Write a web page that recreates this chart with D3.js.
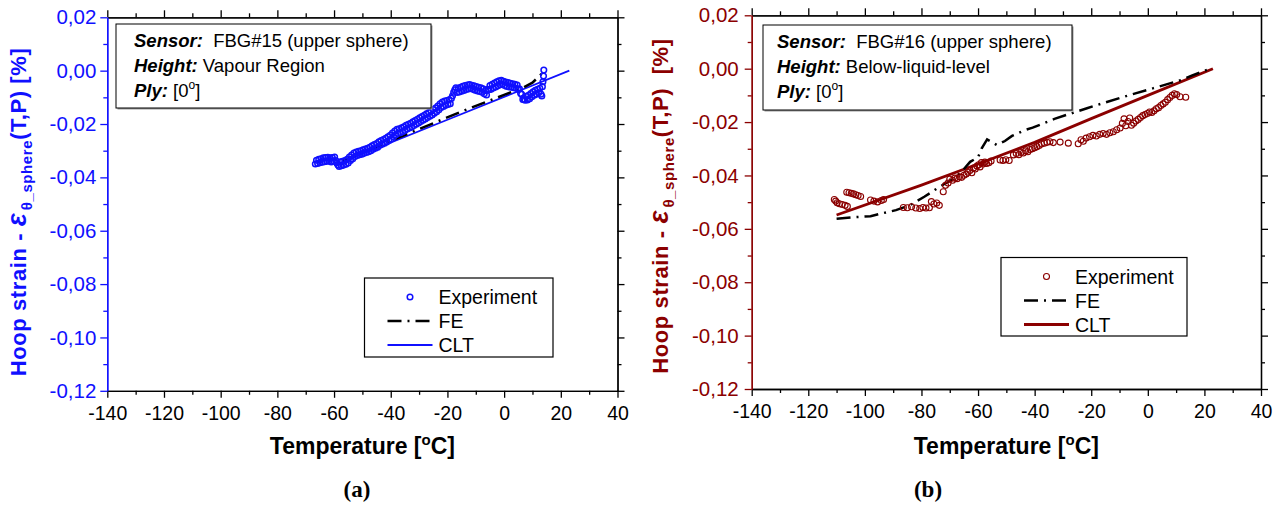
<!DOCTYPE html>
<html><head><meta charset="utf-8">
<script src="https://cdn.jsdelivr.net/npm/d3@7"></script>
<style>
body{margin:0;background:#fff;}
svg{display:block;font-family:"Liberation Sans",Arial,sans-serif;}
text{white-space:pre;}
</style></head><body>
<svg id="chart" width="1286" height="506"></svg>
<script>
// ---------- tick values & labels ----------
const xTickValues = [-140,-120,-100,-80,-60,-40,-20,0,20,40];
const xMinorValues = [-130,-110,-90,-70,-50,-30,-10,10,30];
const yTickValues = [0.02,0,-0.02,-0.04,-0.06,-0.08,-0.10,-0.12];
const yMinorValues = [0.01,-0.01,-0.03,-0.05,-0.07,-0.09,-0.11];
const legendLabels = ["Experiment","FE","CLT"];
const panelLetters = ["(a)","(b)"];
const sensorNames = ["FBG#15 (upper sphere)","FBG#16 (upper sphere)"];
const heightNames = ["Vapour Region","Below-liquid-level"];

// ---------- panel (a): FBG#15 ----------
const expTempA = [-66.6,-66.2,-65.8,-65.4,-65.0,-64.6,-64.2,-63.8,-63.4,-63.0,-62.6,-62.2,-61.8,-61.4,-61.0,-60.6,-60.2,-59.8,-59.4,-59.0,-58.6,-58.2,-57.8,-57.4,-57.0,-56.6,-56.2,-55.8,-55.4,-55.0,-54.6,-54.2,-53.8,-53.4,-53.0,-52.6,-52.2,-51.8,-51.4,-51.0,-50.6,-50.2,-49.8,-49.4,-49.0,-48.6,-48.2,-47.8,-47.4,-47.0,-46.6,-46.2,-45.8,-45.4,-45.0,-44.6,-44.2,-43.8,-43.4,-43.0,-42.6,-42.2,-41.8,-41.4,-41.0,-40.6,-40.2,-39.8,-39.4,-39.0,-38.6,-38.2,-37.8,-37.4,-37.0,-36.6,-36.2,-35.8,-35.4,-35.0,-34.6,-34.2,-33.8,-33.4,-33.0,-32.6,-32.2,-31.8,-31.4,-31.0,-30.6,-30.2,-29.8,-29.4,-29.0,-28.6,-28.2,-27.8,-27.4,-27.0,-26.6,-26.2,-25.8,-25.4,-25.0,-24.6,-24.2,-23.8,-23.4,-23.0,-22.6,-22.2,-21.8,-21.4,-21.0,-20.6,-20.2,-19.8,-19.4,-19.0,-18.6,-18.2,-17.8,-17.4,-17.0,-16.6,-16.2,-15.8,-15.4,-15.0,-14.6,-14.2,-13.8,-13.4,-13.0,-12.6,-12.2,-11.8,-11.4,-11.0,-10.6,-10.2,-9.8,-9.4,-9.0,-8.6,-8.2,-7.8,-7.4,-7.0,-6.6,-6.2,-5.8,-5.4,-5.0,-4.6,-4.2,-3.8,-3.4,-3.0,-2.6,-2.2,-1.8,-1.4,-1.0,-0.6,-0.2,0.2,0.6,1.0,1.4,1.8,2.2,2.6,3.0,3.4,3.8,4.2,4.6,5.0,5.4,5.8,6.2,6.6,7.0,7.4,7.8,8.2,8.6,9.0,9.4,9.8,10.2,10.6,11.0,11.4,11.8,12.2,12.6,13.0,13.3,13.5,13.7,13.9,14.0];
const expStrainA = [-0.0350,-0.0336,-0.0348,-0.0332,-0.0345,-0.0330,-0.0343,-0.0327,-0.0341,-0.0326,-0.0340,-0.0325,-0.0339,-0.0327,-0.0342,-0.0326,-0.0338,-0.0324,-0.0337,-0.0346,-0.0354,-0.0359,-0.0342,-0.0356,-0.0340,-0.0354,-0.0337,-0.0351,-0.0332,-0.0346,-0.0324,-0.0337,-0.0316,-0.0330,-0.0309,-0.0322,-0.0305,-0.0318,-0.0302,-0.0315,-0.0300,-0.0313,-0.0297,-0.0310,-0.0294,-0.0307,-0.0291,-0.0304,-0.0287,-0.0300,-0.0282,-0.0295,-0.0277,-0.0291,-0.0273,-0.0287,-0.0267,-0.0280,-0.0262,-0.0276,-0.0258,-0.0272,-0.0254,-0.0267,-0.0248,-0.0262,-0.0242,-0.0256,-0.0234,-0.0248,-0.0226,-0.0240,-0.0220,-0.0235,-0.0218,-0.0233,-0.0214,-0.0229,-0.0210,-0.0224,-0.0205,-0.0219,-0.0201,-0.0215,-0.0197,-0.0211,-0.0192,-0.0206,-0.0187,-0.0201,-0.0182,-0.0196,-0.0177,-0.0191,-0.0172,-0.0186,-0.0167,-0.0181,-0.0162,-0.0176,-0.0157,-0.0171,-0.0152,-0.0166,-0.0146,-0.0160,-0.0140,-0.0154,-0.0133,-0.0147,-0.0124,-0.0138,-0.0118,-0.0134,-0.0114,-0.0130,-0.0112,-0.0127,-0.0109,-0.0124,-0.0104,-0.0094,-0.0081,-0.0072,-0.0064,-0.0082,-0.0066,-0.0080,-0.0062,-0.0077,-0.0059,-0.0074,-0.0056,-0.0071,-0.0054,-0.0069,-0.0052,-0.0067,-0.0055,-0.0070,-0.0057,-0.0073,-0.0060,-0.0076,-0.0062,-0.0078,-0.0064,-0.0081,-0.0068,-0.0087,-0.0075,-0.0091,-0.0070,-0.0072,-0.0056,-0.0070,-0.0051,-0.0065,-0.0046,-0.0061,-0.0042,-0.0057,-0.0038,-0.0053,-0.0036,-0.0051,-0.0040,-0.0056,-0.0043,-0.0059,-0.0045,-0.0061,-0.0047,-0.0062,-0.0049,-0.0064,-0.0051,-0.0066,-0.0054,-0.0070,-0.0068,-0.0085,-0.0089,-0.0108,-0.0108,-0.0111,-0.0096,-0.0110,-0.0092,-0.0105,-0.0086,-0.0098,-0.0079,-0.0092,-0.0074,-0.0088,-0.0070,-0.0083,-0.0066,-0.0088,-0.0095,-0.0060,-0.0042,-0.0020,0.0002];
const feTempA = [-57,-45,-30,-15,0,7,10,14];
const feStrainA = [-0.0338,-0.0285,-0.0219,-0.0153,-0.0091,-0.0062,-0.0045,-0.0004];
const cltTempA = [-60,-20,23];
const cltStrainA = [-0.0355,-0.0184,0.0];

// ---------- panel (b): FBG#16 ----------
const expTempB = [-110.8,-110.3,-109.8,-109.0,-108.0,-107.0,-106.2,-106.4,-105.6,-104.8,-104.0,-103.2,-102.4,-101.5,-98.0,-96.8,-95.5,-94.2,-93.4,-86.4,-85.0,-83.5,-82.0,-80.6,-79.5,-78.4,-77.2,-76.5,-75.6,-74.6,-73.7,-72.3,-71.5,-70.6,-70.0,-69.0,-68.2,-67.4,-66.6,-65.8,-65.0,-64.2,-63.6,-62.9,-62.2,-61.6,-61.0,-60.4,-59.8,-59.3,-58.8,-58.2,-57.6,-57.0,-56.2,-55.4,-52.2,-51.2,-50.2,-49.0,-47.5,-46.5,-45.6,-44.8,-44.0,-43.2,-42.4,-41.6,-40.8,-40.0,-39.2,-38.4,-37.6,-36.6,-35.6,-34.6,-33.4,-31.0,-28.1,-24.6,-23.6,-22.8,-21.8,-20.6,-19.4,-18.2,-17.0,-15.8,-14.6,-13.4,-12.2,-11.0,-9.8,-9.0,-8.4,-7.8,-7.0,-6.4,-5.8,-5.0,-4.2,-3.4,-2.6,-1.8,-1.0,-0.2,0.6,1.4,2.2,3.0,3.8,4.6,5.4,6.2,7.0,7.8,8.6,9.4,10.2,11.4,13.4];
const expStrainB = [-0.0490,-0.0496,-0.0502,-0.0506,-0.0509,-0.0512,-0.0516,-0.0463,-0.0465,-0.0467,-0.0469,-0.0472,-0.0475,-0.0479,-0.0492,-0.0496,-0.0499,-0.0494,-0.0490,-0.0520,-0.0521,-0.0517,-0.0522,-0.0524,-0.0520,-0.0522,-0.0521,-0.0498,-0.0507,-0.0503,-0.0512,-0.0461,-0.0437,-0.0428,-0.0414,-0.0418,-0.0410,-0.0412,-0.0405,-0.0407,-0.0399,-0.0395,-0.0388,-0.0381,-0.0390,-0.0372,-0.0376,-0.0365,-0.0360,-0.0368,-0.0352,-0.0357,-0.0350,-0.0355,-0.0352,-0.0346,-0.0342,-0.0344,-0.0341,-0.0344,-0.0323,-0.0318,-0.0322,-0.0314,-0.0316,-0.0308,-0.0311,-0.0303,-0.0300,-0.0296,-0.0292,-0.0288,-0.0282,-0.0279,-0.0276,-0.0274,-0.0277,-0.0275,-0.0279,-0.0281,-0.0266,-0.0272,-0.0260,-0.0255,-0.0250,-0.0252,-0.0246,-0.0243,-0.0246,-0.0240,-0.0236,-0.0229,-0.0222,-0.0205,-0.0188,-0.0214,-0.0198,-0.0185,-0.0212,-0.0204,-0.0196,-0.0190,-0.0183,-0.0176,-0.0172,-0.0168,-0.0162,-0.0164,-0.0158,-0.0150,-0.0146,-0.0138,-0.0132,-0.0126,-0.0116,-0.0108,-0.0100,-0.0094,-0.0097,-0.0105,-0.0107];
const feTempB = [-110,-105,-98,-94,-89,-84,-79,-73.5,-68.5,-65.8,-62.8,-60,-58.7,-56.8,-53.4,-50.5,-48,-43.4,-40.7,-33,-21.5,-10,2,12,15.5,22];
const feStrainB = [-0.0562,-0.0557,-0.0553,-0.0542,-0.0530,-0.0511,-0.0480,-0.0442,-0.0411,-0.0386,-0.0349,-0.0332,-0.0298,-0.0265,-0.0286,-0.0271,-0.0252,-0.0230,-0.0221,-0.0188,-0.0148,-0.0110,-0.0073,-0.0042,-0.0026,0.0];
const cltTempB = [-110,-80,-60,-40,-20,0,23];
const cltStrainB = [-0.0548,-0.0436,-0.0357,-0.0276,-0.0187,-0.0100,0.0];

const svg = d3.select("#chart");
const fmtY = d => d3.format(".2f")(d).replace(".", ",").replace("\u2212", "-");
const fmtX = d => String(d);

function drawPanel(cfg) {
  const g = svg.append("g");
  const x = d3.scaleLinear().domain([-140, 40]).range([cfg.x0, cfg.x1]);
  const y = d3.scaleLinear().domain([-0.12, 0.02]).range([cfg.yb, cfg.yt]);
  const col = cfg.color;

  // data
  const line = d3.line().x(d => x(d[0])).y(d => y(d[1]));
  const clt = cfg.cltT.map((t, i) => [t, cfg.cltS[i]]);
  const fe = cfg.feT.map((t, i) => [t, cfg.feS[i]]);
  const ex = cfg.expT.map((t, i) => [t, cfg.expS[i]]);

  g.append("path").datum(clt).attr("d", line).attr("fill", "none")
    .attr("stroke", col).attr("stroke-width", cfg.cltWidth);
  g.append("path").datum(fe).attr("d", line).attr("fill", "none")
    .attr("stroke", "#000").attr("stroke-width", 2.5).attr("stroke-dasharray", "14,6,2,6");
  g.append("g").selectAll("circle").data(ex).join("circle")
    .attr("cx", d => x(d[0])).attr("cy", d => y(d[1])).attr("r", cfg.r)
    .attr("fill", "none").attr("stroke", col).attr("stroke-width", cfg.circW);

  // axes
  const bottom = g.append("g").attr("transform", `translate(0,${cfg.yb})`)
    .call(d3.axisBottom(x).tickValues(xTickValues).tickFormat(fmtX).tickSize(7).tickSizeOuter(0).tickPadding(8));
  g.append("g").attr("transform", `translate(0,${cfg.yb})`)
    .call(d3.axisBottom(x).tickValues(xMinorValues).tickFormat("").tickSize(4).tickSizeOuter(0));
  g.append("g").attr("transform", `translate(0,${cfg.yt})`)
    .call(d3.axisTop(x).tickValues(xTickValues).tickFormat("").tickSize(7).tickSizeOuter(0));
  g.append("g").attr("transform", `translate(0,${cfg.yt})`)
    .call(d3.axisTop(x).tickValues(xMinorValues).tickFormat("").tickSize(4).tickSizeOuter(0));
  g.append("g").attr("transform", `translate(${cfg.x1},0)`)
    .call(d3.axisRight(y).tickValues(yTickValues).tickFormat("").tickSize(7).tickSizeOuter(0));
  g.append("g").attr("transform", `translate(${cfg.x1},0)`)
    .call(d3.axisRight(y).tickValues(yMinorValues).tickFormat("").tickSize(4).tickSizeOuter(0));
  const left = g.append("g").attr("transform", `translate(${cfg.x0},0)`)
    .call(d3.axisLeft(y).tickValues(yTickValues).tickFormat(fmtY).tickSize(7).tickSizeOuter(0).tickPadding(cfg.yPad));
  const leftMinor = g.append("g").attr("transform", `translate(${cfg.x0},0)`)
    .call(d3.axisLeft(y).tickValues(yMinorValues).tickFormat("").tickSize(4).tickSizeOuter(0));

  g.selectAll(".domain, .tick line").attr("stroke", "#000").attr("stroke-width", 1.3);
  [left, leftMinor].forEach(a => a.selectAll(".domain, .tick line").attr("stroke", col));
  bottom.selectAll("text").attr("font-size", 19.5).attr("font-family", "Liberation Sans").attr("fill", "#000");
  left.selectAll("text").attr("font-size", 20.5).attr("font-family", "Liberation Sans").attr("fill", col);

  // axis titles
  const xt = g.append("text").attr("x", (cfg.x0 + cfg.x1) / 2).attr("y", 454)
    .attr("text-anchor", "middle").attr("font-weight", "bold").attr("font-size", 23).attr("fill", "#000");
  xt.append("tspan").text("Temperature [");
  xt.append("tspan").attr("font-size", 15).attr("dy", -9).text("o");
  xt.append("tspan").attr("dy", 9).text("C]");

  const yt = g.append("text").attr("transform", `translate(${cfg.ytx},${cfg.yty}) rotate(-90)`)
    .attr("text-anchor", "middle").attr("font-weight", "bold").attr("font-size", 22)
    .attr("letter-spacing", 0.6).attr("fill", col);
  yt.append("tspan").text("Hoop strain - ");
  yt.append("tspan").attr("font-style", "italic").attr("font-size", 27).attr("letter-spacing", 3).text("\u03B5");
  yt.append("tspan").attr("font-size", 15).attr("dy", 6).text("\u03B8_sphere");
  yt.append("tspan").attr("dy", -6).text(cfg.yTail);

  // info box
  g.append("rect").attr("x", cfg.bx + 1.5).attr("y", cfg.by + 1.5).attr("width", cfg.bw).attr("height", cfg.bh).attr("fill", "#999");
  g.append("rect").attr("x", cfg.bx).attr("y", cfg.by).attr("width", cfg.bw).attr("height", cfg.bh)
    .attr("fill", "#fff").attr("stroke", "#000").attr("stroke-width", 1);
  const bfs = 18.5;
  const l1 = g.append("text").attr("x", cfg.tx).attr("y", cfg.by + 23).attr("font-size", bfs);
  l1.append("tspan").attr("font-weight", "bold").attr("font-style", "italic").text("Sensor:");
  l1.append("tspan").text("  " + cfg.sensor);
  const l2 = g.append("text").attr("x", cfg.tx).attr("y", cfg.by + 48).attr("font-size", bfs);
  l2.append("tspan").attr("font-weight", "bold").attr("font-style", "italic").text("Height:");
  l2.append("tspan").text(" " + cfg.height);
  const l3 = g.append("text").attr("x", cfg.tx).attr("y", cfg.by + 73).attr("font-size", bfs);
  l3.append("tspan").attr("font-weight", "bold").attr("font-style", "italic").text("Ply:");
  l3.append("tspan").text(" [0");
  l3.append("tspan").attr("font-size", 12).attr("dy", -8).text("o");
  l3.append("tspan").attr("dy", 8).text("]");

  // legend
  const L = cfg.leg;
  g.append("rect").attr("x", L.x).attr("y", L.y).attr("width", L.w).attr("height", L.h)
    .attr("fill", "#fff").attr("stroke", "#000").attr("stroke-width", 1.2);
  const lx0 = L.x + 23, lx1 = L.x + 68, tx = L.x + 74;
  const rows = [L.y + 19, L.y + 43, L.y + 67];
  g.append("circle").attr("cx", (lx0 + lx1) / 2).attr("cy", rows[0]).attr("r", cfg.r)
    .attr("fill", "none").attr("stroke", col).attr("stroke-width", cfg.circW);
  g.append("line").attr("x1", lx0).attr("x2", lx1).attr("y1", rows[1]).attr("y2", rows[1])
    .attr("stroke", "#000").attr("stroke-width", 2.5).attr("stroke-dasharray", "14,6,2,6");
  g.append("line").attr("x1", lx0).attr("x2", lx1).attr("y1", rows[2]).attr("y2", rows[2])
    .attr("stroke", col).attr("stroke-width", cfg.cltWidth);
  legendLabels.forEach((lab, i) => {
    g.append("text").attr("x", tx).attr("y", rows[i] + 7).attr("font-size", 19.5).text(lab);
  });

  // panel letter
  g.append("text").attr("x", cfg.lx).attr("y", 497).attr("text-anchor", "middle")
    .attr("font-family", "Liberation Serif").attr("font-weight", "bold").attr("font-size", 23).text(cfg.letter);
}

drawPanel({
  x0: 107.3, x1: 617.5, yt: 17.3, yb: 390.8, color: "#1010ff",
  expT: expTempA, expS: expStrainA, feT: feTempA, feS: feStrainA, cltT: cltTempA, cltS: cltStrainA,
  cltWidth: 1.8, r: 2.8, circW: 1.5, yPad: 4,
  ytx: 26, yty: 212, yTail: "(T,P) [%]",
  bx: 116, by: 24, bw: 315, bh: 84, tx: 134, sensor: sensorNames[0], height: heightNames[0],
  leg: {x: 364.5, y: 278, w: 188.5, h: 79},
  lx: 357, letter: panelLetters[0]
});
drawPanel({
  x0: 751.7, x1: 1261, yt: 15.3, yb: 389, color: "#8b0000",
  expT: expTempB, expS: expStrainB, feT: feTempB, feS: feStrainB, cltT: cltTempB, cltS: cltStrainB,
  cltWidth: 2.8, r: 3, circW: 1.1, yPad: 6,
  ytx: 668, yty: 206, yTail: "(T,P)  [%]",
  bx: 763, by: 25, bw: 309, bh: 85, tx: 777, sensor: sensorNames[1], height: heightNames[1],
  leg: {x: 1001, y: 257.5, w: 186, h: 78.5},
  lx: 928, letter: panelLetters[1]
});
</script>
</body></html>
